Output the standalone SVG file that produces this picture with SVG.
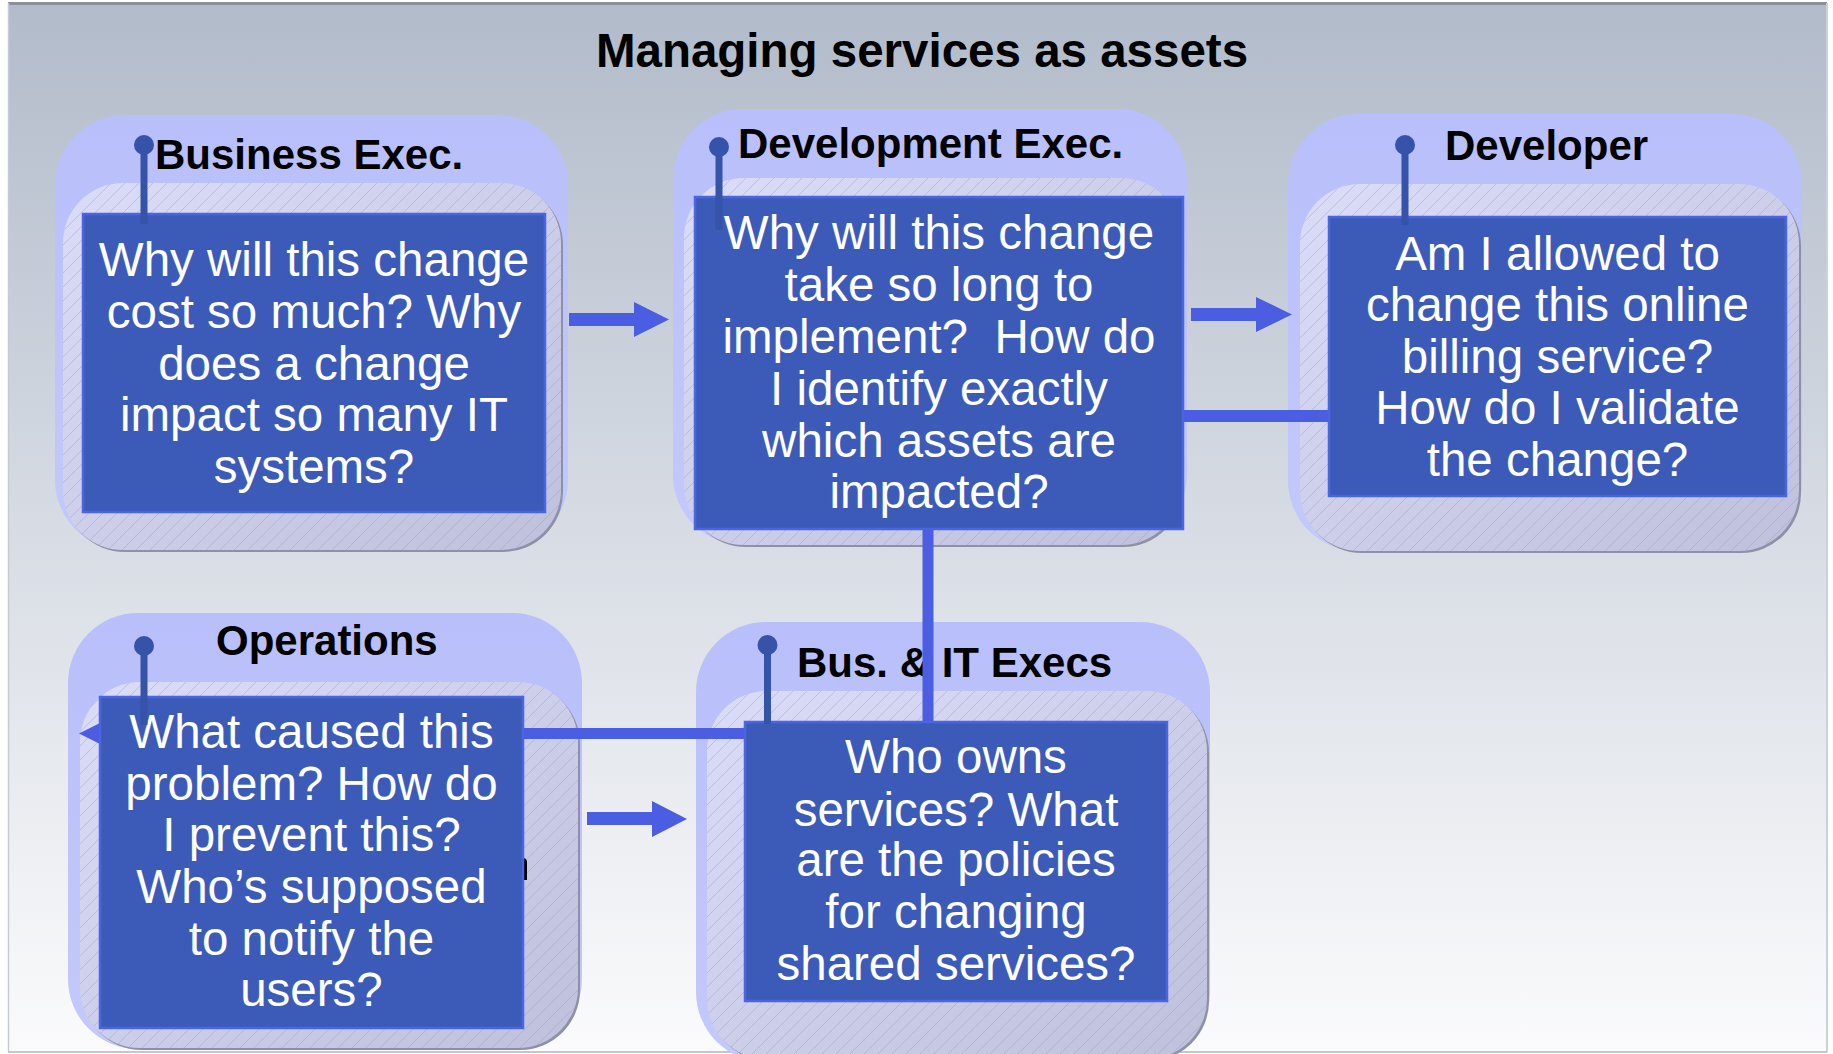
<svg xmlns="http://www.w3.org/2000/svg" width="1833" height="1054" viewBox="0 0 1833 1054">
<style>
.title{font-family:"Liberation Sans",Arial,sans-serif;font-weight:bold;font-size:47.5px;fill:#000}
.lbl{font-family:"Liberation Sans",Arial,sans-serif;font-weight:bold;font-size:42px;fill:#000}
.body{font-family:"Liberation Sans",Arial,sans-serif;font-size:47.5px;fill:#fff;text-anchor:middle}
.outer{fill:url(#gOuter)}
.shadow{fill:#8e90a6}
.inner{fill:url(#gInner)}
.hatch{fill:url(#hatch)}
.box{fill:#3c5bb8;stroke:#4b64e2;stroke-width:2.5}
.pin{stroke:#3453a9;stroke-width:7;fill:none}
.pinhead{fill:#3453a9}
.conn{fill:#4b5de0}
</style>
<defs>
<linearGradient id="gBg" x1="0" y1="0" x2="0" y2="1">
<stop offset="0" stop-color="#b2bbca"/>
<stop offset="0.5" stop-color="#d7dce4"/>
<stop offset="1" stop-color="#fbfbfc"/>
</linearGradient>
<linearGradient id="gOuter" x1="0" y1="0" x2="0" y2="1">
<stop offset="0" stop-color="#b8bffa"/>
<stop offset="1" stop-color="#c4c9fb"/>
</linearGradient>
<linearGradient id="gInner" x1="0" y1="0" x2="1" y2="1">
<stop offset="0" stop-color="#dadcf8"/>
<stop offset="1" stop-color="#bec0dc"/>
</linearGradient>
<pattern id="hatch" patternUnits="userSpaceOnUse" width="14" height="14">
<path d="M-1,1 L1,-1 M0,14 L14,0 M13,15 L15,13" stroke="#9a9dc0" stroke-width="0.8" opacity="0.55"/>
</pattern>
</defs>

<g id="background">
<rect x="0" y="0" width="1833" height="1054" fill="#ffffff"/>
<rect x="8" y="3" width="1819" height="1049" fill="url(#gBg)"/>
<line x1="8" y1="3.5" x2="1827" y2="3.5" stroke="#8b8f99" stroke-width="3"/>
<line x1="8.5" y1="3" x2="8.5" y2="1052" stroke="#c6cad3" stroke-width="1.5"/>
<line x1="1827" y1="3" x2="1827" y2="1052" stroke="#cbd1da" stroke-width="2"/>
<line x1="8" y1="1052" x2="1827" y2="1052" stroke="#c2c6ce" stroke-width="2"/>
<text class="title" x="922" y="67" text-anchor="middle">Managing services as assets</text>
</g>

<g id="business-exec-frame">
<rect class="outer" x="55" y="115" width="513" height="435" rx="70"/>
<rect class="shadow" x="65" y="185" width="498" height="367" rx="60"/>
<rect class="inner" x="63" y="183" width="498" height="367" rx="60"/>
<rect class="hatch" x="63" y="183" width="498" height="367" rx="60"/>
<text class="lbl" x="155" y="169">Business Exec.</text>
</g>

<g id="development-exec-frame">
<rect class="outer" x="673" y="109" width="514" height="436" rx="70"/>
<rect class="shadow" x="686" y="180" width="497" height="367" rx="60"/>
<rect class="inner" x="684" y="178" width="497" height="367" rx="60"/>
<rect class="hatch" x="684" y="178" width="497" height="367" rx="60"/>
<text class="lbl" x="738" y="158">Development Exec.</text>
</g>

<g id="developer-frame">
<rect class="outer" x="1288" y="114" width="514" height="437" rx="70"/>
<rect class="shadow" x="1302" y="186" width="499" height="367" rx="60"/>
<rect class="inner" x="1300" y="184" width="499" height="367" rx="60"/>
<rect class="hatch" x="1300" y="184" width="499" height="367" rx="60"/>
<text class="lbl" x="1445" y="160">Developer</text>
</g>

<g id="operations-frame">
<rect class="outer" x="68" y="613" width="514" height="436" rx="70"/>
<rect class="shadow" x="82" y="684" width="498" height="366" rx="60"/>
<rect class="inner" x="80" y="682" width="498" height="366" rx="60"/>
<rect class="hatch" x="80" y="682" width="498" height="366" rx="60"/>
<text class="lbl" x="216" y="655">Operations</text>
</g>

<g id="bus-it-execs-frame">
<rect class="outer" x="696" y="622" width="514" height="440" rx="70"/>
<rect class="shadow" x="709" y="693" width="500" height="368" rx="60"/>
<rect class="inner" x="707" y="691" width="500" height="368" rx="60"/>
<rect class="hatch" x="707" y="691" width="500" height="368" rx="60"/>
<text class="lbl" x="797" y="677">Bus. &amp; IT Execs</text>
</g>

<g id="connectors">
<polygon class="conn" points="569,313 634,313 634,302 669,319.5 634,337 634,326 569,326"/>
<polygon class="conn" points="1191,308 1256,308 1256,297 1292,314.5 1256,332 1256,321 1191,321"/>
<rect class="conn" x="1182" y="410" width="147" height="12"/>
<rect class="conn" x="922.5" y="528" width="11" height="195"/>
<polygon class="conn" points="745,728 114,728 114,716 79,733.5 114,751 114,739 745,739"/>
<polygon class="conn" points="587,812 652,812 652,801 687,819 652,837 652,825 587,825"/>
</g>

<g id="business-exec">
<rect class="box" x="83" y="214" width="462" height="298"/>
<text class="body" x="314" y="276">Why will this change</text>
<text class="body" x="314" y="328">cost so much? Why</text>
<text class="body" x="314" y="380">does a change</text>
<text class="body" x="314" y="431">impact so many IT</text>
<text class="body" x="314" y="483">systems?</text>
<line class="pin" x1="144" y1="145" x2="144" y2="224"/>
<circle class="pinhead" cx="144" cy="145" r="10"/>
</g>

<g id="development-exec">
<rect class="box" x="695" y="197" width="488" height="332"/>
<text class="body" x="939" y="249">Why will this change</text>
<text class="body" x="939" y="301">take so long to</text>
<text class="body" x="939" y="353" xml:space="preserve">implement?  How do</text>
<text class="body" x="939" y="405">I identify exactly</text>
<text class="body" x="939" y="457">which assets are</text>
<text class="body" x="939" y="508">impacted?</text>
<line class="pin" x1="719" y1="147" x2="719" y2="230"/>
<circle class="pinhead" cx="719" cy="147" r="10"/>
</g>

<g id="developer">
<rect class="box" x="1329" y="217" width="457" height="279"/>
<text class="body" x="1557.5" y="270">Am I allowed to</text>
<text class="body" x="1557.5" y="321">change this online</text>
<text class="body" x="1557.5" y="373">billing service?</text>
<text class="body" x="1557.5" y="424">How do I validate</text>
<text class="body" x="1557.5" y="476">the change?</text>
<line class="pin" x1="1405" y1="145" x2="1405" y2="225"/>
<circle class="pinhead" cx="1405" cy="145" r="10"/>
</g>

<g id="operations">
<path d="M521,859 q4,-3 6,2 v19 h-6 z" fill="#000"/>
<rect class="box" x="100" y="697" width="423" height="331"/>
<text class="body" x="311.5" y="748">What caused this</text>
<text class="body" x="311.5" y="800">problem? How do</text>
<text class="body" x="311.5" y="851">I prevent this?</text>
<text class="body" x="311.5" y="903">Who’s supposed</text>
<text class="body" x="311.5" y="955">to notify the</text>
<text class="body" x="311.5" y="1006">users?</text>
<line class="pin" x1="144" y1="646" x2="144" y2="725"/>
<circle class="pinhead" cx="144" cy="646" r="10"/>
</g>

<g id="bus-it-execs">
<rect class="box" x="745" y="722" width="422" height="279"/>
<text class="body" x="956" y="773">Who owns</text>
<text class="body" x="956" y="826">services? What</text>
<text class="body" x="956" y="876">are the policies</text>
<text class="body" x="956" y="928">for changing</text>
<text class="body" x="956" y="980">shared services?</text>
<line class="pin" x1="767.5" y1="645" x2="767.5" y2="724"/>
<circle class="pinhead" cx="767.5" cy="645" r="10"/>
</g>
</svg>
